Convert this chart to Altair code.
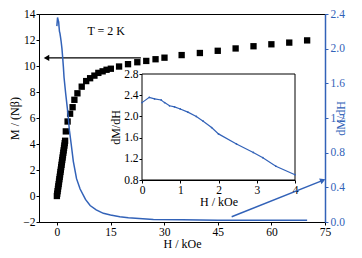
import altair as alt
import pandas as pd

# ---- data ----
# magnetisation M/(N beta) vs H (kOe), black squares
H_sq = [0.0, 0.1, 0.2, 0.3, 0.4, 0.5, 0.6, 0.7, 0.8, 0.9, 1.0, 1.1, 1.2, 1.3, 1.4, 1.5,
        1.6, 1.7, 1.8, 1.9, 2.0, 2.1, 2.2, 2.3,
        2.5, 3.0, 3.7, 4.4, 4.9, 5.75, 6.95, 8.2, 9.3, 10.5, 11.6, 12.8, 13.9, 15.1,
        17.4, 19.9, 22.5, 25.0, 27.6, 30.1, 34.9, 40.0, 45.0, 50.0, 55.0, 60.0, 65.0, 70.0]
M_sq = [0.0, 0.18, 0.37, 0.55, 0.74, 0.92, 1.11, 1.29, 1.48, 1.66, 1.85, 2.03, 2.22, 2.40,
        2.59, 2.77, 2.96, 3.14, 3.33, 3.51, 3.70, 3.88, 4.07, 4.25,
        4.97, 5.73, 6.33, 6.83, 7.40, 7.90, 8.41, 8.84, 9.06, 9.26, 9.47, 9.59, 9.71, 9.79,
        9.96, 10.14, 10.29, 10.39, 10.52, 10.64, 10.84, 11.0, 11.17, 11.35, 11.52, 11.67, 11.8, 11.97]

# dM/dH vs H (kOe), blue curve
H_d = [0.0, 0.19, 0.33, 0.5, 0.59, 0.72, 0.85, 1.0, 1.2, 1.42, 1.6, 1.82, 2.0, 2.47, 2.91,
       3.16, 3.5, 4.0, 4.6, 5.5, 6.5, 8.0, 9.3, 11.0, 13.0, 15.0, 17.6, 20.0, 27.0, 35.0,
       45.0, 55.0, 70.0]
D_d = [2.26, 2.36, 2.33, 2.31, 2.26, 2.20, 2.18, 2.14, 2.08, 2.00, 1.91, 1.79, 1.67, 1.48,
       1.32, 1.22, 1.06, 0.90, 0.70, 0.50, 0.38, 0.26, 0.19, 0.14, 0.10, 0.08, 0.06, 0.05,
       0.03, 0.025, 0.02, 0.02, 0.02]

x_ticks = [0, 15, 30, 45, 60, 75]
yl_ticks = [-2, 0, 2, 4, 6, 8, 10, 12, 14]
yr_ticks = [0.0, 0.4, 0.8, 1.2, 1.6, 2.0, 2.4]
ix_ticks = [0, 1, 2, 3, 4]
iy_ticks = [0.8, 1.2, 1.6, 2.0, 2.4, 2.8]

blk_arrow = {"x": [23.5], "x2": [-2.9], "y": [10.62]}
blu_arrow = {"x": [48.9], "x2": [74.4], "y": [0.06], "y2": [0.48]}
label_T = {"x": [13.8], "y": [12.7], "t": ["T = 2 K"]}
inset_box = {"x": [0], "x2": [4], "y": [0.8], "y2": [2.8]}

BLUE = "#3262b8"
FONT = "Liberation Serif"

sq = pd.DataFrame({"H": H_sq, "M": M_sq})
dd = pd.DataFrame({"H": H_d, "D": D_d})

W, HT = 286, 208
xs = alt.Scale(domain=[-5, 75], nice=False, zero=False)
yls = alt.Scale(domain=[-2, 14], nice=False, zero=False)
yrs = alt.Scale(domain=[0, 2.4], nice=False, zero=False)
ixs = alt.Scale(domain=[0, 4], range=[103, 256], nice=False, zero=False)
iys = alt.Scale(domain=[0.8, 2.8], range=[166, 60], nice=False, zero=False)

ax_common = dict(labelOverlap=False, labelFlush=False, grid=False, tickSize=3,
                 labelPadding=1, titlePadding=1, labelFont=FONT, titleFont=FONT,
                 labelFontSize=11.5, titleFontSize=12, titleFontWeight="normal",
                 domainColor="black", tickColor="black", labelColor="black",
                 titleColor="black")

# ---- main (left axis) marks ----
squares = alt.Chart(sq).mark_square(size=40, color="black", opacity=1).encode(
    x=alt.X("H:Q", scale=xs, axis=alt.Axis(orient="bottom", values=x_ticks, title="H / kOe",
                                            **ax_common)),
    y=alt.Y("M:Q", scale=yls, axis=alt.Axis(orient="left", values=yl_ticks, title="M / (Nβ)",
                                             **ax_common)),
)
arr1 = alt.Chart(pd.DataFrame(blk_arrow)).mark_rule(color="black", strokeWidth=1.2).encode(
    x=alt.X("x:Q", scale=xs, axis=None), x2="x2:Q",
    y=alt.Y("y:Q", scale=yls, axis=None))
head1 = alt.Chart(pd.DataFrame(blk_arrow)).mark_point(
    shape="triangle-left", filled=True, color="black", size=40, opacity=1).encode(
    x=alt.X("x2:Q", scale=xs, axis=None), y=alt.Y("y:Q", scale=yls, axis=None))
txt = alt.Chart(pd.DataFrame(label_T)).mark_text(font=FONT, fontSize=12, color="black").encode(
    x=alt.X("x:Q", scale=xs, axis=None), y=alt.Y("y:Q", scale=yls, axis=None), text="t:N")

# ---- blue (right axis) marks ----
curve = alt.Chart(dd).mark_line(color=BLUE, strokeWidth=1.5).encode(
    x=alt.X("H:Q", scale=xs, axis=None),
    y=alt.Y("D:Q", scale=yrs, axis=alt.Axis(
        orient="right", values=yr_ticks, format=".1f", title="dM/dH", titleAngle=270,
        labelOverlap=False, labelFlush=False, grid=False, tickSize=3, labelPadding=2,
        titlePadding=3, labelFont=FONT, titleFont=FONT, labelFontSize=11.5,
        titleFontSize=12, titleFontWeight="normal", domainColor=BLUE, tickColor=BLUE,
        labelColor=BLUE, titleColor=BLUE, domainWidth=1.5)),
)
arr2 = alt.Chart(pd.DataFrame(blu_arrow)).mark_rule(color=BLUE, strokeWidth=1.5).encode(
    x=alt.X("x:Q", scale=xs, axis=None), x2="x2:Q",
    y=alt.Y("y:Q", scale=yrs, axis=None), y2="y2:Q")
head2 = alt.Chart(pd.DataFrame(blu_arrow)).mark_point(
    shape="triangle-right", filled=True, color=BLUE, size=40, opacity=1, angle=338).encode(
    x=alt.X("x2:Q", scale=xs, axis=None), y=alt.Y("y2:Q", scale=yrs, axis=None))

# ---- inset ----
box = alt.Chart(pd.DataFrame(inset_box)).mark_rect(
    fill="white", stroke="black", strokeWidth=1).encode(
    x=alt.X("x:Q", scale=ixs, axis=alt.Axis(orient="bottom", offset=-42, values=ix_ticks,
                                             format="d", title="H / kOe", **ax_common)),
    x2="x2:Q",
    y=alt.Y("y:Q", scale=iys, axis=alt.Axis(orient="left", offset=-103, values=iy_ticks,
                                             format=".1f", title="dM/dH", **ax_common)),
    y2="y2:Q",
)
iline = alt.Chart(dd).transform_filter(alt.datum.H <= 4).mark_line(
    color=BLUE, strokeWidth=1.2, point=alt.OverlayMarkDef(size=3, color=BLUE, filled=True)).encode(
    x=alt.X("H:Q", scale=ixs, axis=None), y=alt.Y("D:Q", scale=iys, axis=None))

chart = alt.layer(squares, arr1, head1, txt, curve, arr2, head2, box, iline).resolve_scale(
    x="independent", y="independent").properties(
    width=W, height=HT, padding={"left": 0, "right": 0, "top": 0, "bottom": 0}
).configure_view(stroke="black", strokeWidth=1).configure_text(font=FONT)

chart.save("out.html", embed_options={"renderer": "svg", "actions": False})
